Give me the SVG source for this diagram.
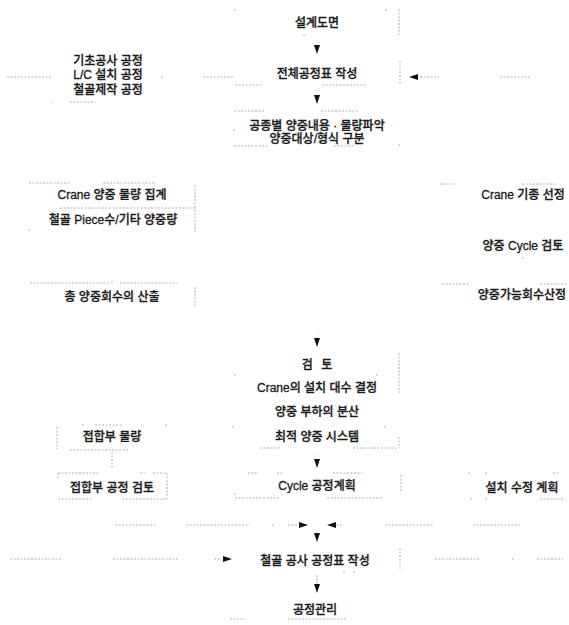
<svg xmlns="http://www.w3.org/2000/svg" width="569" height="625" viewBox="0 0 569 625">
<defs>
<marker id="ah" markerUnits="userSpaceOnUse" markerWidth="10" markerHeight="7" refX="9" refY="3" orient="auto">
<path d="M0,0 L9,3 L0,6 Z" fill="#111"/>
</marker>
<style>
text{font-family:"Liberation Sans","Noto Sans CJK KR",sans-serif;font-size:12px;fill:#1a1a1a;stroke:#1a1a1a;stroke-width:0.3;text-anchor:middle;font-weight:500}
.b{fill:none;stroke:#b0b0b0;stroke-width:1;stroke-dasharray:2 1.5}
.c{fill:none;stroke:#b0b0b0;stroke-width:1;stroke-dasharray:2 1.5}
.a{fill:none;stroke:#d0d0d0;stroke-width:1;stroke-dasharray:1 3;marker-end:url(#ah)}
</style>
</defs>
<rect width="569" height="625" fill="#fff"/>

<g id="n1">
<path class="b" d="M234,10 h2 M385,10 h2 M399,9 v26 M303,35 h2"/>
<text x="317" y="27">설계도면</text>
</g>

<g id="n2">
<path class="b" d="M235,85 h28 M322,85 h45 M400,61 v24"/>
<text x="317" y="78">전체공정표 작성</text>
</g>

<g id="n3">
<text x="108" y="65">기초공사 공정</text>
<text x="108" y="79">L/C 설치 공정</text>
<text x="108" y="94">철골제작 공정</text>
<path class="b" d="M52,102 h1 M70,102 h25"/>
</g>

<g id="n4">
<path class="b" d="M234,111 h31 M321,111 h38 M234,129 v2 M234,146 h34 M334,146 h20 M399,144 v3"/>
<text x="317" y="130">공종별 양중내용 · 물량파악</text>
<text x="317" y="143">양중대상/형식 구분</text>
</g>

<g id="n5">
<path class="b" d="M29,183 h40 M103,183 h53 M60,208 h135 M195,185 v47 M29,229 v2"/>
<text x="112" y="199">Crane 양중 물량 집계</text>
<text x="113" y="224">철골 Piece수/기타 양중량</text>
</g>

<g id="n6">
<path class="b" d="M30,283 h80 M112,281 v4 M120,283 h57 M195,287 v21"/>
<text x="112" y="301">총 양중회수의 산출</text>
</g>

<g id="n7">
<path class="b" d="M440,184 h15 M522,184 h35"/>
<text x="523" y="199">Crane 기종 선정</text>
</g>

<g id="n8">
<path class="b" d="M523,257 v2"/>
<text x="523" y="250">양중 Cycle 검토</text>
</g>

<g id="n9">
<path class="b" d="M442,284 h28 M540,284 h28"/>
<text x="522" y="299">양중가능회수산정</text>
</g>

<g id="n10">
<path class="b" d="M399,353 v40 M235,374 v2 M377,374 v2 M233,426 v2 M385,426 v2 M260,448 h20 M353,448 h45 M399,437 v11"/>
<text x="317" y="369" word-spacing="5">검 토</text>
<text x="317" y="392">Crane의 설치 대수 결정</text>
<text x="317" y="416">양중 부하의 분산</text>
<text x="317" y="441">최적 양중 시스템</text>
</g>

<g id="n11">
<path class="b" d="M82,425 h2 M95,425 h27 M165,425 h2 M57,427 v22 M70,450 h58"/>
<text x="112" y="441">접합부 물량</text>
</g>

<g id="n12">
<path class="b" d="M58,473 h42 M140,473 h5 M153,473 h14 M58,473 v5 M167,473 v26 M58,499 h35 M122,499 h45"/>
<text x="112" y="492">접합부 공정 검토</text>
</g>

<g id="n13">
<path class="b" d="M248,473 h10 M277,473 h6 M333,473 h29 M235,493 v2 M235,498 h45 M327,498 h56"/>
<text x="317" y="490">Cycle 공정계획</text>
</g>

<g id="n14">
<path class="b" d="M468,473 h2 M485,473 h2 M553,473 h7 M401,475 v18 M470,499 h2 M485,499 h2 M540,499 h25"/>
<text x="522" y="492">설치 수정 계획</text>
</g>

<g id="n15">
<path class="b" d="M400,548 v22 M343,572 h2 M353,572 h2"/>
<text x="315" y="565">철골 공사 공정표 작성</text>
</g>

<g id="n16">
<path class="b" d="M230,619 h15 M288,619 h59"/>
<text x="315" y="614">공정관리</text>
</g>

<g id="connectors">
<line class="a" x1="317" y1="40" x2="317" y2="54"/>
<path class="c" d="M7,77 h45 M161,77 h2 M203,77 h30"/>
<path class="c" d="M500,77 h30 M420,77 h19"/>
<line class="a" x1="420" y1="77" x2="409" y2="77"/>
<line class="a" x1="317" y1="90" x2="317" y2="104"/>
<line class="a" x1="317" y1="333" x2="317" y2="347"/>
<line class="a" x1="317" y1="454" x2="317" y2="468"/>
<path class="c" d="M112,452 v16"/>
<path class="c" d="M115,525 h42 M186,525 h64 M272,525 h2 M288,525 h10"/>
<line class="a" x1="296" y1="525" x2="308" y2="525"/>
<path class="c" d="M342,525 h-6 M385,525 h48 M473,525 h47"/>
<line class="a" x1="338" y1="525" x2="327" y2="525"/>
<line class="a" x1="317" y1="529" x2="317" y2="542"/>
<path class="c" d="M10,559 h53 M113,559 h65 M214,559 h6"/>
<line class="a" x1="220" y1="559" x2="232" y2="559"/>
<path class="c" d="M435,559 h45 M512,559 h2 M537,559 h26"/>
<path class="c" d="M317,575 v10"/>
<line class="a" x1="317" y1="583" x2="317" y2="593"/>
</g>
</svg>
